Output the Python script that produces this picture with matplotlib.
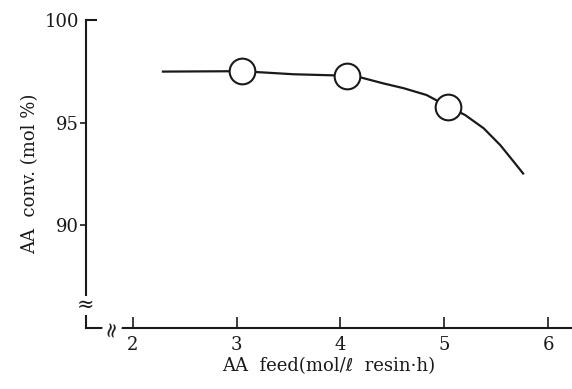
import matplotlib.pyplot as plt

# values
curve_x = [2.29, 2.65, 3.05, 3.55, 4.06, 4.17, 4.41, 4.61, 4.83, 5.04, 5.20, 5.38, 5.54, 5.67, 5.76]
curve_y = [97.48, 97.49, 97.5, 97.35, 97.28, 97.23, 96.91, 96.67, 96.34, 95.77, 95.37, 94.72, 93.9, 93.09, 92.52]
point_x = [3.05, 4.06, 5.04]
point_y = [97.5, 97.28, 95.77]
xticks = [2, 3, 4, 5, 6]
yticks = [90, 95, 100]

plt.rcParams['font.family'] = ['DejaVu Serif', 'DejaVu Sans']

fig = plt.figure(figsize=(5.72, 3.89), dpi=100)
ax = fig.add_axes([0.150, 0.157, 0.850, 0.792])

ax.plot(curve_x, curve_y, color='#1a1a1a', lw=1.6, zorder=2, solid_joinstyle='round')
ax.plot(point_x, point_y, 'o', ms=18.5, mfc='white', mec='#1a1a1a', mew=1.5, zorder=3)

ax.set_xlim(1.547, 6.231)
ax.set_ylim(85, 100)
ax.spines['top'].set_visible(False)
ax.spines['right'].set_visible(False)
for s in ['left', 'bottom']:
    ax.spines[s].set_linewidth(1.5)
    ax.spines[s].set_color('#1a1a1a')

ax.set_xticks(xticks)
ax.set_yticks(yticks)
ax.set_yticklabels(['90', '95', '100'])
ax.tick_params(axis='x', direction='in', length=8, width=1.2, labelsize=13, pad=6, colors='#1a1a1a')
ax.tick_params(axis='y', direction='out', length=4, width=1.2, labelsize=13, pad=1, colors='#1a1a1a')
# the top tick points inward in the reference
ax.yaxis.get_major_ticks()[2].tick1line.set_visible(False)
ax.axhline(100, xmin=0, xmax=0.022, color='#1a1a1a', lw=1.5, clip_on=False)

# axis break marks
ax.text(1.547, 86.1, '≈', fontsize=15, ha='center', va='center', color='#1a1a1a',
        bbox=dict(fc='white', ec='none', pad=0))
ax.text(1.8, 85, '≈', fontsize=15, ha='center', va='center', rotation=80, color='#1a1a1a',
        bbox=dict(fc='white', ec='none', pad=0), clip_on=False)

ax.set_xlabel('AA  feed(mol/ℓ  resin·h)', fontsize=13, labelpad=2, color='#1a1a1a')
ax.set_ylabel('AA  conv. (mol %)', fontsize=13, labelpad=4, color='#1a1a1a')

fig.savefig('out.png', dpi=100)
